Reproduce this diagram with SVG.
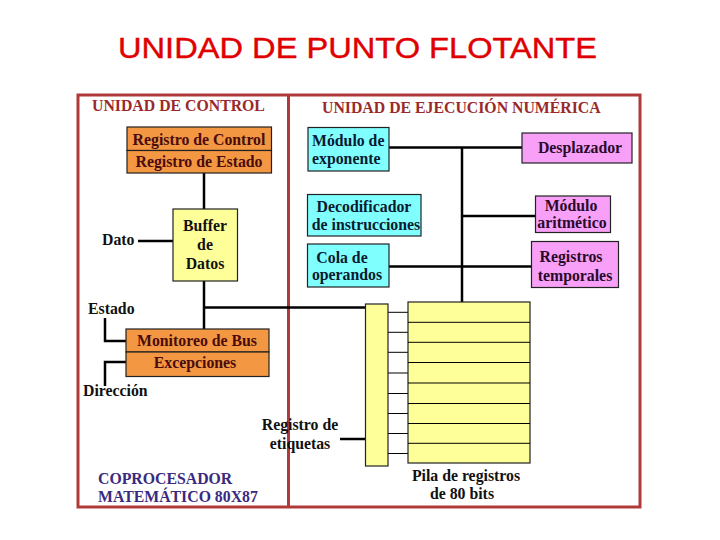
<svg xmlns="http://www.w3.org/2000/svg" width="720" height="540" viewBox="0 0 720 540">
<style>
.t{font-family:"Liberation Serif","Times New Roman",serif;font-weight:bold;font-size:15.8px;}
.m{text-anchor:middle;}
.ctl{fill:#4a0c0c;}
.cy{fill:#0a1a30;}
.mg{fill:#2a0a2a;}
.blk{fill:#111;}
.hd{font-family:"Liberation Serif","Times New Roman",serif;font-weight:bold;font-size:15.8px;fill:#9a2a2a;}
.ob{fill:#f39743;stroke:#222;stroke-width:1.2;}
.cb{fill:#80ffff;stroke:#222;stroke-width:1.2;}
.pb{fill:#f8a0f8;stroke:#222;stroke-width:1.2;}
.yb{fill:#ffff99;stroke:#222;stroke-width:1.2;}
.ln{stroke:#000;stroke-width:2.5;fill:none;}
.th{stroke:#000;stroke-width:1;fill:none;}
</style>
<rect width="720" height="540" fill="#fff"/>
<text x="118" y="58" font-family="Liberation Sans,Arial,sans-serif" font-size="29.5" fill="#e00000" textLength="479" lengthAdjust="spacingAndGlyphs" stroke="#e00000" stroke-width="0.4">UNIDAD DE PUNTO FLOTANTE</text>
<g id="frame">
<rect x="78" y="95" width="562" height="412" fill="none" stroke="#b03a3a" stroke-width="3"/>
<line x1="288.5" y1="95" x2="288.5" y2="507" stroke="#b03a3a" stroke-width="3"/>
<text x="92" y="111" class="hd">UNIDAD DE CONTROL</text>
<text x="322" y="113" class="hd">UNIDAD DE EJECUCIÓN NUMÉRICA</text>
<text x="98" y="484" class="t" fill="#3a2a80">COPROCESADOR</text>
<text x="98" y="502" class="t" fill="#3a2a80">MATEMÁTICO 80X87</text>
</g>
<g id="connectors">
<path class="ln" d="M204 173V209M204 281V329M204 307.5H366M138 241H173M105 318V341H126M126 362H105V386M340 439H366M462 302V147.5M389 147.5H522M462 216H536M389 266.5H531"/>
<path class="th" d="M388 312.3H408M388 332.3H408M388 352.3H408M388 373H408M388 393.5H408M388 413.5H408M388 433.5H408M388 453.5H408"/>
</g>
<g id="reg-control">
<rect x="127" y="127" width="144.5" height="23.5" class="ob"/>
<text x="199" y="145" class="t m ctl">Registro de Control</text>
</g>
<g id="reg-estado">
<rect x="127" y="150.5" width="144.5" height="22.5" class="ob"/>
<text x="199" y="167" class="t m ctl">Registro de Estado</text>
</g>
<g id="buffer">
<rect x="173" y="209" width="64.5" height="72" class="yb"/>
<text x="205" y="231" class="t m blk">Buffer</text>
<text x="205" y="250" class="t m blk">de</text>
<text x="205" y="269" class="t m blk">Datos</text>
</g>
<g id="dato"><text x="102" y="245" class="t blk">Dato</text></g>
<g id="estado"><text x="88" y="314" class="t blk">Estado</text></g>
<g id="direccion"><text x="83" y="396" class="t blk">Dirección</text></g>
<g id="monitoreo">
<rect x="126" y="329" width="143" height="23" class="ob"/>
<text x="197" y="346" class="t m ctl">Monitoreo de Bus</text>
</g>
<g id="excepciones">
<rect x="126" y="352" width="143" height="24.5" class="ob"/>
<text x="195" y="368" class="t m ctl">Excepciones</text>
</g>
<g id="etiquetas-label">
<text x="300" y="430" class="t m blk">Registro de</text>
<text x="300" y="449" class="t m blk">etiquetas</text>
</g>
<g id="etiquetas">
<rect x="365.5" y="304" width="22.5" height="162" class="yb"/>
</g>
<g id="pila">
<rect x="408" y="302" width="122" height="161" class="yb"/>
<path class="th" d="M408 322.3H530M408 342.3H530M408 362.5H530M408 383H530M408 403.5H530M408 423.5H530M408 443.3H530"/>
<text x="466" y="481" class="t m blk">Pila de registros</text>
<text x="462" y="499" class="t m blk">de 80 bits</text>
</g>
<g id="exponente">
<rect x="308" y="127.5" width="81" height="43.5" class="cb"/>
<text x="312" y="146" class="t cy">Módulo de</text>
<text x="312" y="164" class="t cy">exponente</text>
</g>
<g id="decodificador">
<rect x="307.5" y="194.5" width="113.5" height="41.5" class="cb"/>
<text x="364" y="212" class="t m cy">Decodificador</text>
<text x="366" y="230" class="t m cy">de instrucciones</text>
</g>
<g id="cola">
<rect x="307.5" y="244" width="81.5" height="43" class="cb"/>
<text x="342" y="263" class="t m cy">Cola de</text>
<text x="347" y="280" class="t m cy">operandos</text>
</g>
<g id="desplazador">
<rect x="522" y="133" width="110" height="30" class="pb"/>
<text x="580" y="153" class="t m mg">Desplazador</text>
</g>
<g id="aritmetico">
<rect x="535.5" y="196" width="75" height="36.5" class="pb"/>
<text x="571" y="211" class="t m mg">Módulo</text>
<text x="572" y="228" class="t m mg">aritmético</text>
</g>
<g id="temporales">
<rect x="531.5" y="241.5" width="87" height="46" class="pb"/>
<text x="571" y="262" class="t m mg">Registros</text>
<text x="575" y="281" class="t m mg">temporales</text>
</g>
</svg>
